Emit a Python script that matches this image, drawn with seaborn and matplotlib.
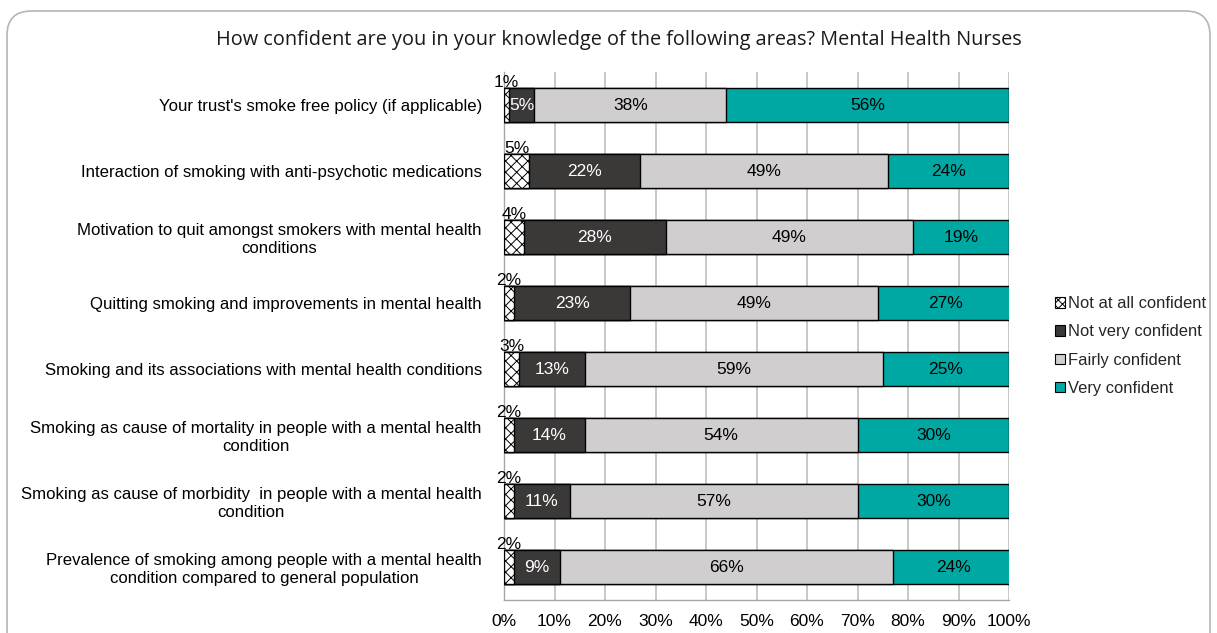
import matplotlib
matplotlib.use("Agg")
import matplotlib.pyplot as plt
from matplotlib.patches import FancyBboxPatch, Patch
import seaborn as sns
import numpy as np
import pandas as pd

areas = [
    "Your trust's smoke free policy (if applicable)",
    "Interaction of smoking with anti-psychotic medications",
    "Motivation to quit amongst smokers with mental health\nconditions",
    "Quitting smoking and improvements in mental health",
    "Smoking and its associations with mental health conditions",
    "Smoking as cause of mortality in people with a mental health\ncondition",
    "Smoking as cause of morbidity  in people with a mental health\ncondition",
    "Prevalence of smoking among people with a mental health\ncondition compared to general population",
]
not_at_all = [1, 5, 4, 2, 3, 2, 2, 2]
not_very = [5, 22, 28, 23, 13, 14, 11, 9]
fairly = [38, 49, 49, 49, 59, 54, 57, 66]
very = [56, 24, 19, 27, 25, 30, 30, 24]

levels = ["Not at all confident", "Not very confident", "Fairly confident", "Very confident"]
colors = ["#ffffff", "#3b3838", "#d0cece", "#00a8a3"]
text_colors = ["#000000", "#ffffff", "#000000", "#000000"]

title = "How confident are you in your knowledge of the following areas? Mental Health Nurses"

sns.set_theme(style="white")
plt.rcParams["font.family"] = ["Liberation Sans", "DejaVu Sans"]
plt.rcParams["hatch.linewidth"] = 0.7

series = np.array([not_at_all, not_very, fairly, very], dtype=float)
cum = np.cumsum(series, axis=0)
starts = cum - series

fig = plt.figure(figsize=(12.17, 6.33), dpi=100)
ax = fig.add_axes([504 / 1217, 1 - 600 / 633, 505 / 1217, 528 / 633])

bar_w = 0.53
# stacked bars drawn back to front from cumulative totals
for i in range(3, -1, -1):
    df = pd.DataFrame({"area": areas, "value": cum[i]})
    sns.barplot(data=df, y="area", x="value", orient="h", ax=ax, color=colors[i],
                width=bar_w, edgecolor="black", linewidth=1.0, saturation=1,
                hatch="xxx" if i == 0 else None, zorder=3)

ax.set_xlim(0, 100)
ax.set_ylim(len(areas) - 0.5, -0.5)
ax.set_xlabel("")
ax.set_ylabel("")

for j in range(len(areas)):
    for i in range(4):
        val = series[i, j]
        xc = starts[i, j] + val / 2
        if i == 0:
            ax.text(xc, j - bar_w / 2 - 0.07, f"{int(val)}%", ha="center", va="center",
                    fontsize=12.5, color="black", zorder=5)
        else:
            ax.text(xc, j, f"{int(val)}%", ha="center", va="center",
                    fontsize=12.5, color=text_colors[i], zorder=5)

ax.set_xticks(np.arange(0, 101, 10))
ax.set_xticklabels([f"{v}%" for v in range(0, 101, 10)], fontsize=12.5)
ax.xaxis.grid(True, color="#bfbfbf", linewidth=1.2, zorder=0)
ax.set_axisbelow(True)
ax.set_yticks(range(len(areas)))
ax.set_yticklabels(areas, fontsize=12.1, multialignment="center")
ax.set_yticks(np.arange(-0.5, len(areas), 1), minor=True)
ax.tick_params(axis="y", which="major", length=0, pad=16)
ax.tick_params(axis="y", which="minor", length=5, color="#a6a6a6", width=1)
ax.tick_params(axis="x", which="major", length=5, color="#a6a6a6", width=1, pad=5, direction="out")
ax.tick_params(axis="both", colors="#a6a6a6", labelcolor="black")

for s in ["top", "right"]:
    ax.spines[s].set_visible(False)
for s in ["left", "bottom"]:
    ax.spines[s].set_color("#a6a6a6")
    ax.spines[s].set_linewidth(1)

handles = []
for i in range(4):
    handles.append(Patch(facecolor=colors[i], edgecolor="black", linewidth=0.8,
                         hatch="xxxx" if i == 0 else None, label=levels[i]))
fig.legend(handles=handles, loc="center left", bbox_to_anchor=(1055 / 1217, 1 - 346 / 633),
           frameon=False, fontsize=11.9, handlelength=0.6, handleheight=0.6,
           handletextpad=0.2, labelspacing=0.8, borderaxespad=0, borderpad=0)

fig.text(619 / 1217, 1 - 40 / 633, title, ha="center", va="center",
         fontsize=14.3, family=["Open Sans", "DejaVu Sans"], color="#1a1a1a")

frame = FancyBboxPatch((7 / 1217, -0.05), 1203 / 1217, 1 - 11 / 633 + 0.05,
                       boxstyle="round,pad=0,rounding_size=0.02",
                       transform=fig.transFigure, facecolor="none",
                       edgecolor="#b5b5b5", linewidth=1.2, mutation_aspect=1217 / 633)
fig.patches.append(frame)

fig.savefig("out.png", dpi=100)
